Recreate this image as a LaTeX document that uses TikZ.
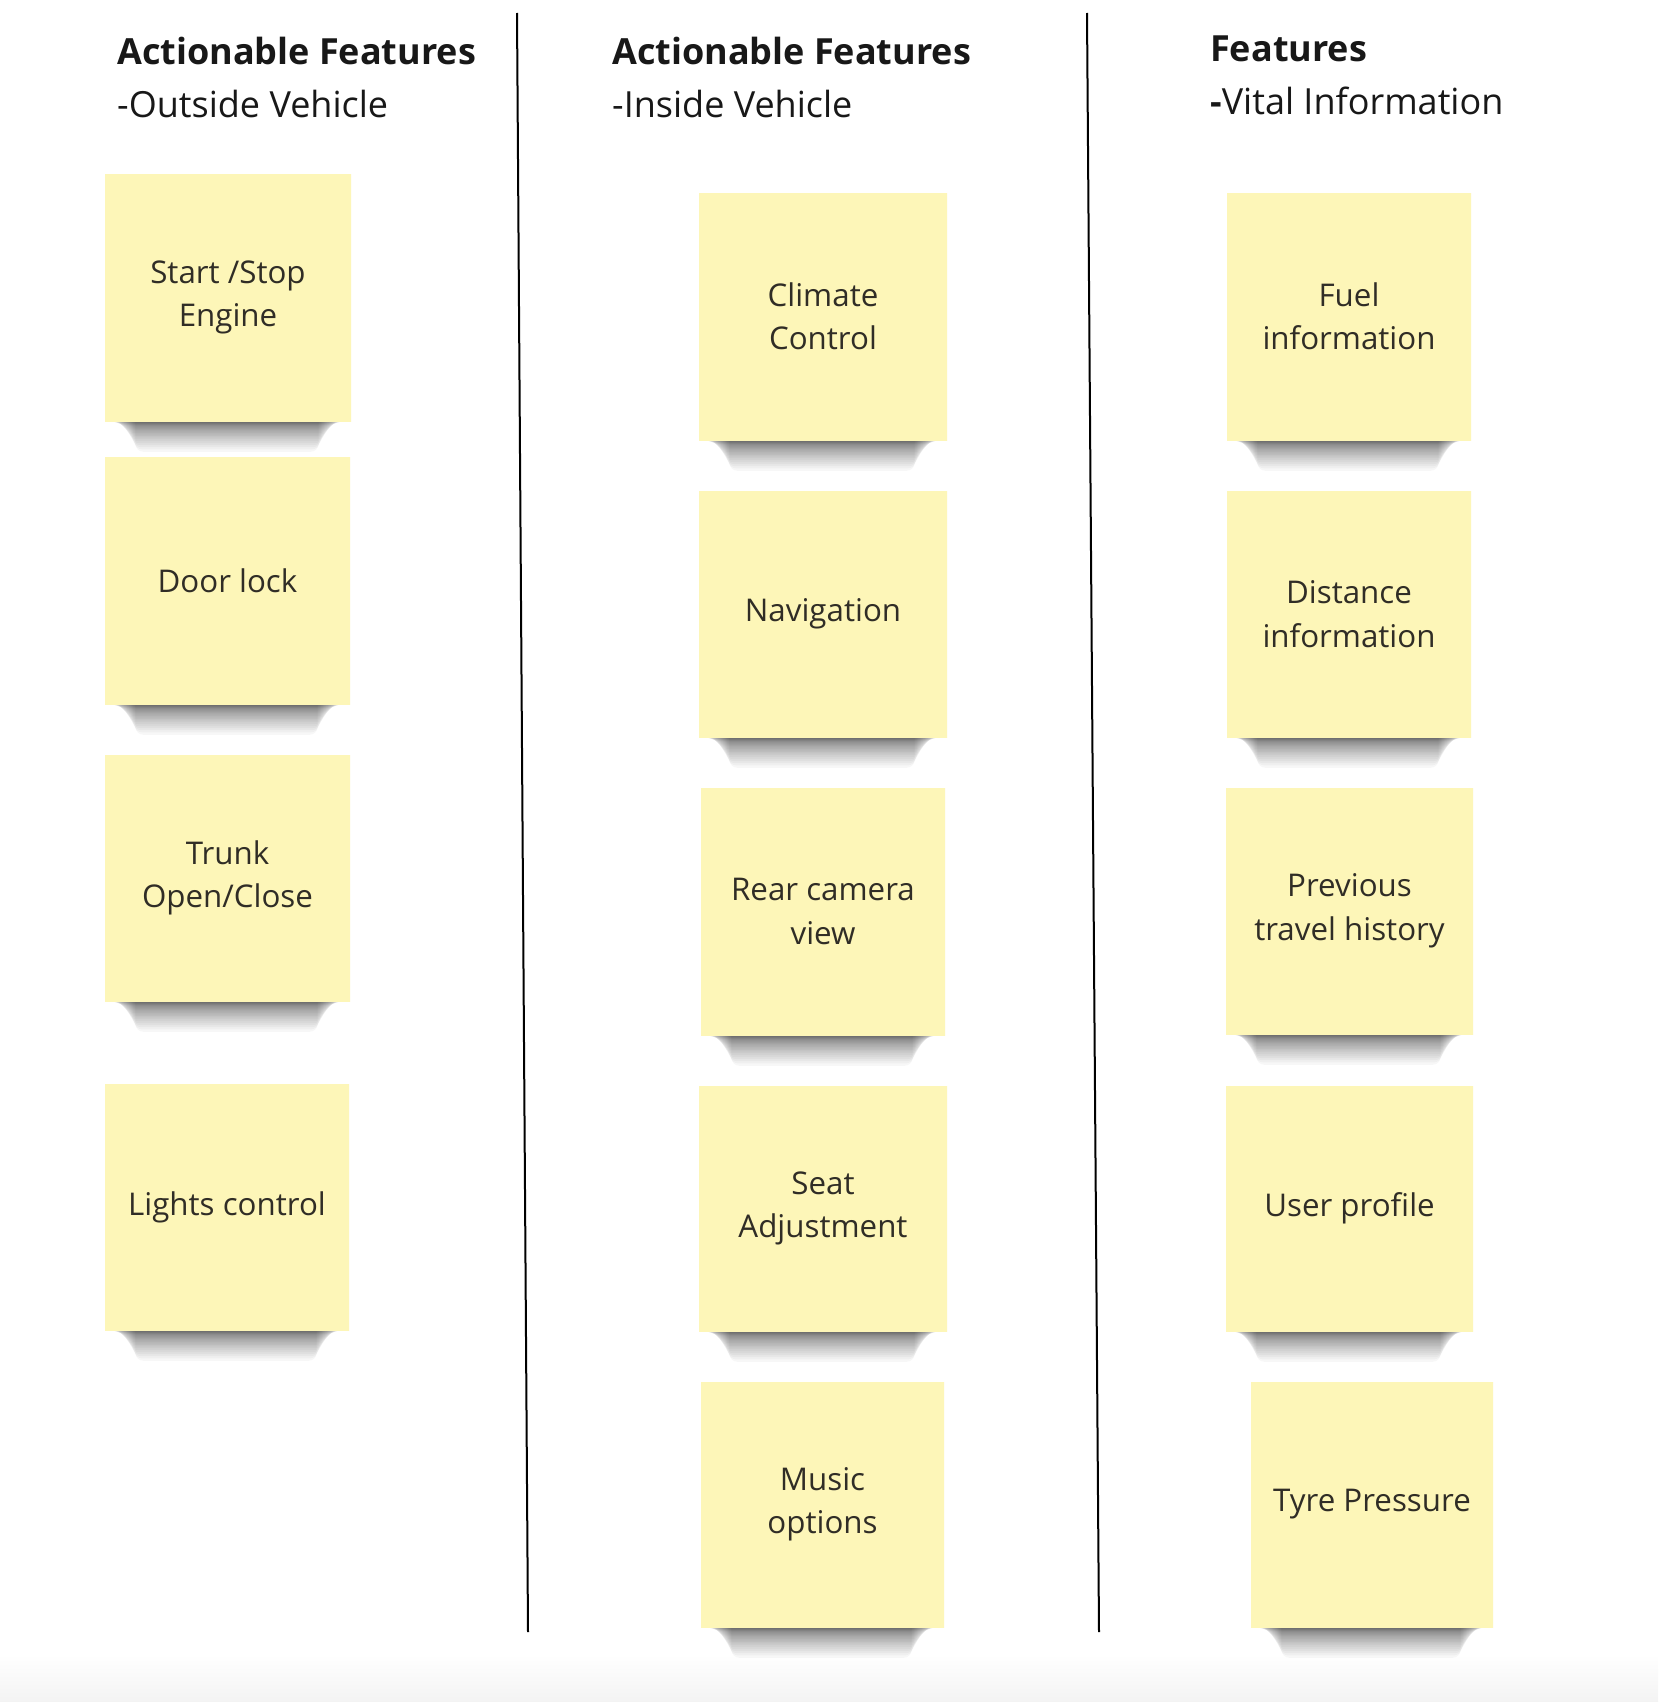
\documentclass[tikz,border=0pt]{standalone}
\usepackage{fontspec}
\setmainfont{Open Sans}
\usetikzlibrary{calc}
\definecolor{notefill}{RGB}{253,246,184}
\definecolor{notetop}{RGB}{244,238,172}
\definecolor{notebot}{RGB}{247,240,176}
\definecolor{notetext}{RGB}{48,45,38}
\definecolor{headtext}{RGB}{24,24,24}
\pgfdeclareverticalshading{notesh}{100bp}{color(0bp)=(notebot); color(2bp)=(notefill); color(84bp)=(notefill); color(100bp)=(notetop)}
\newcommand\stickynote[6]{%
  \foreach \k in {1,...,24} {
    \fill[black, opacity=0.03, rounded corners=8pt] (#2+4+1.1*\k,#5-10) rectangle (#4-6-1.1*\k,#5+2+0.05*\k*\k);
  }
  \node[notebox, minimum width={#4-#2}, minimum height={#5-#3}] (#1) at ({(#2+#4)/2},{(#3+#5)/2}) {};
  \node[notelabel] (#1-t) at ({(#2+#4)/2},{(#3+#5)/2}) {#6};
}
\begin{document}
\begin{tikzpicture}[x=1pt,y=-1pt,
  notebox/.style={inner sep=0pt, shading=notesh, draw=none},
  notelabel/.style={inner sep=0pt, align=center, text=notetext, font=\fontsize{31.3}{43.5}\selectfont},
  head/.style={inner sep=0pt, anchor=base west, text=headtext, font=\fontsize{36}{44}\selectfont\bfseries},
  sub/.style={inner sep=0pt, anchor=base west, text=headtext, font=\fontsize{36}{44}\selectfont},
  divider/.style={draw=black, line width=2pt}]
\useasboundingbox (0,0) rectangle (1658,1702);
\fill[white] (0,0) rectangle (1658,1702);
\shade[top color=white, bottom color={rgb,255:red,243;green,243;blue,243}] (0,1655) rectangle (1658,1702);

% headings
\node[head] (h1) at (117,65) {Actionable Features};
\node[sub] (h1s) at (117,117) {-Outside Vehicle};
\node[head] (h2) at (612,65) {Actionable Features};
\node[sub] (h2s) at (612,117) {-Inside Vehicle};
\node[head] (h3) at (1210,62) {Features};
\node[sub] (h3s) at (1210,114) {\textbf{-}Vital Information};

% dividers
\coordinate (l1t) at (517,13);
\coordinate (l1b) at (528,1632);
\coordinate (l2t) at (1087,13);
\coordinate (l2b) at (1099,1632);
\draw[divider] (l1t) -- (l1b);
\draw[divider] (l2t) -- (l2b);

% column 1
\stickynote{s1}{105}{174}{351}{421}{Start /Stop\\Engine}
\stickynote{s2}{105}{457}{350}{704}{Door lock}
\stickynote{s3}{105}{755}{350}{1001}{Trunk\\Open/Close}
\stickynote{s4}{105}{1084}{349}{1330}{Lights control}
% column 2
\stickynote{c1}{699}{193}{947}{440}{Climate\\Control}
\stickynote{c2}{699}{491}{947}{737}{Navigation}
\stickynote{c3}{701}{788}{945}{1035}{Rear camera\\view}
\stickynote{c4}{699}{1086}{947}{1331}{Seat\\Adjustment}
\stickynote{c5}{701}{1382}{944}{1627}{Music\\options}
% column 3
\stickynote{v1}{1227}{193}{1471}{440}{Fuel\\information}
\stickynote{v2}{1227}{491}{1471}{737}{Distance\\information}
\stickynote{v3}{1226}{788}{1473}{1034}{Previous\\travel history}
\stickynote{v4}{1226}{1086}{1473}{1331}{User profile}
\stickynote{v5}{1251}{1382}{1493}{1627}{Tyre Pressure}
\end{tikzpicture}
\end{document}
